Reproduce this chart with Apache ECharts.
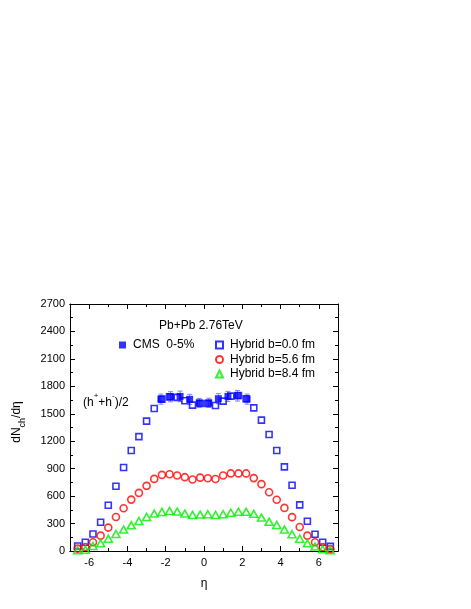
<!DOCTYPE html>
<html>
<head>
<meta charset="utf-8">
<script src="https://cdn.jsdelivr.net/npm/echarts@6/dist/echarts.min.js"></script>
<style>
  html, body { margin: 0; padding: 0; background: #fff; }
  #chart { width: 471px; height: 609px; }
</style>
</head>
<body>
<div id="chart"></div>
<script>
// pseudorapidity points of the hybrid model
const eta = [-6.6, -6.2, -5.8, -5.4, -5.0, -4.6, -4.2, -3.8, -3.4, -3.0, -2.6, -2.2, -1.8, -1.4, -1.0, -0.6, -0.2,
  0.2, 0.6, 1.0, 1.4, 1.8, 2.2, 2.6, 3.0, 3.4, 3.8, 4.2, 4.6, 5.0, 5.4, 5.8, 6.2, 6.6]

// Hybrid b=0.0 fm
const hybridB00 = [55, 95, 186, 314, 500, 708, 913, 1099, 1250, 1420, 1557, 1660, 1685, 1679, 1642, 1595, 1612,
  1612, 1591, 1638, 1693, 1700, 1665, 1565, 1431, 1274, 1099, 920, 719, 504, 325, 183, 95, 51]
// Hybrid b=5.6 fm
const hybridB56 = [26, 44, 95, 168, 256, 372, 467, 562, 635, 712, 788, 832, 839, 825, 807, 781, 802,
  795, 787, 825, 848, 848, 848, 797, 731, 643, 560, 471, 370, 263, 168, 95, 42, 20]
// Hybrid b=8.4 fm
const hybridB84 = [8, 15, 55, 84, 135, 186, 234, 281, 328, 372, 409, 427, 438, 431, 409, 394, 398,
  402, 394, 402, 418, 430, 428, 406, 365, 321, 285, 234, 183, 135, 84, 48, 19, 8]

// CMS 0-5% data
const cmsEta = [-2.25, -1.75, -1.25, -0.75, -0.25, 0.25, 0.75, 1.25, 1.75, 2.25]
const cmsVal = [1660, 1686, 1690, 1658, 1620, 1620, 1665, 1690, 1697, 1660]
const cmsErr = [55, 55, 58, 55, 48, 50, 55, 55, 58, 55]

// tick positions
const xMajorTicks = [-6, -4, -2, 0, 2, 4, 6]
const xMinorTicks = [-5, -3, -1, 1, 3, 5]

const FONT = '"Liberation Sans", Arial, sans-serif'
const BLUE = '#0000ff'
const RED = '#ff0000'
const GREEN = '#00ee00'

const pairs = (xs, ys) => xs.map((x, i) => [x, ys[i]])

// x axes: bottom/top with major and minor tick sets
function xAxisCfg(position, ticks, len, withLabels) {
  return {
    type: 'value',
    position,
    min: -7,
    max: 7,
    axisLine: { show: true, onZero: false, lineStyle: { color: '#000', width: 1 } },
    axisTick: { show: true, inside: true, length: len, customValues: ticks, lineStyle: { color: '#000' } },
    axisLabel: withLabels
      ? { show: true, customValues: ticks, color: '#000', fontSize: 11, fontFamily: FONT, margin: 6 }
      : { show: false },
    splitLine: { show: false },
  }
}

function yAxisCfg(position, withLabels) {
  return {
    type: 'value',
    position,
    min: 0,
    max: 2700,
    interval: 300,
    axisLine: { show: true, onZero: false, lineStyle: { color: '#000', width: 1 } },
    axisTick: { show: true, inside: true, length: 5, lineStyle: { color: '#000' } },
    minorTick: { show: true, splitNumber: 2, length: 3, lineStyle: { color: '#000' } },
    axisLabel: withLabels
      ? { show: true, color: '#000', fontSize: 11, fontFamily: FONT, margin: 5, formatter: v => String(v) }
      : { show: false },
    splitLine: { show: false },
  }
}

const chart = echarts.init(document.getElementById('chart'), null, { renderer: 'canvas' })

chart.setOption({
  backgroundColor: '#fff',
  animation: false,
  grid: { left: 70, right: 133, top: 304, bottom: 58 },
  xAxis: [
    Object.assign(xAxisCfg('bottom', xMajorTicks, 5, true), {
      name: 'η', nameLocation: 'middle', nameGap: 27,
      nameTextStyle: { color: '#000', fontSize: 12, fontFamily: FONT },
    }),
    xAxisCfg('bottom', xMinorTicks, 3, false),
    xAxisCfg('top', xMajorTicks, 5, false),
    xAxisCfg('top', xMinorTicks, 3, false),
  ],
  yAxis: [yAxisCfg('left', true), yAxisCfg('right', false)],
  legend: [
    {
      data: ['CMS  0-5%'],
      left: 119, top: 339, padding: 0,
      itemWidth: 7, itemHeight: 7,
      selectedMode: false,
      textStyle: { color: '#000', fontSize: 12, fontFamily: FONT, padding: [0, 0, 0, 2] },
    },
    {
      data: ['Hybrid b=0.0 fm', 'Hybrid b=5.6 fm', 'Hybrid b=8.4 fm'],
      orient: 'vertical',
      left: 215, top: 339, padding: 0, itemGap: 2.5,
      itemWidth: 7, itemHeight: 7,
      selectedMode: false,
      textStyle: { color: '#000', fontSize: 12, fontFamily: FONT, padding: [0, 0, 0, 2] },
    },
  ],
  graphic: [
    {
      type: 'text', left: 159, top: 320,
      style: { text: 'Pb+Pb 2.76TeV', fill: '#000', font: '12px ' + FONT },
    },
    {
      type: 'text', left: 83, top: 392,
      style: {
        text: '{a|(h}{s|+}{a|+h}{s|-}{a|)/2}',
        rich: {
          a: { fontSize: 12, fontFamily: FONT, fill: '#000', padding: [5, 0, 0, 0], verticalAlign: 'top' },
          s: { fontSize: 8, fontFamily: FONT, fill: '#000', verticalAlign: 'top' },
        },
      },
    },
    {
      type: 'text', x: 19, y: 422, rotation: Math.PI / 2,
      style: {
        text: '{a|dN}{b|ch}{a|/dη}',
        align: 'center', verticalAlign: 'middle',
        rich: {
          a: { fontSize: 12, fontFamily: FONT, fill: '#000', padding: [0, 0, 4, 0], verticalAlign: 'bottom' },
          b: { fontSize: 9, fontFamily: FONT, fill: '#000', verticalAlign: 'bottom' },
        },
      },
    },
  ],
  series: [
    {
      // CMS error bars
      type: 'custom',
      silent: true,
      z: 1,
      data: cmsEta.map((e, i) => [e, cmsVal[i] - cmsErr[i], cmsVal[i] + cmsErr[i]]),
      renderItem(params, api) {
        const lo = api.coord([api.value(0), api.value(1)])
        const hi = api.coord([api.value(0), api.value(2)])
        const w = 2.5
        const st = { stroke: '#8080ff', lineWidth: 1 }
        return {
          type: 'group',
          children: [
            { type: 'line', shape: { x1: lo[0], y1: lo[1], x2: hi[0], y2: hi[1] }, style: st },
            { type: 'line', shape: { x1: lo[0] - w, y1: lo[1], x2: lo[0] + w, y2: lo[1] }, style: st },
            { type: 'line', shape: { x1: hi[0] - w, y1: hi[1], x2: hi[0] + w, y2: hi[1] }, style: st },
          ],
        }
      },
    },
    {
      name: 'Hybrid b=0.0 fm',
      type: 'scatter',
      data: pairs(eta, hybridB00),
      symbol: 'rect',
      symbolSize: 6,
      itemStyle: { color: 'rgba(255,255,255,0)', borderColor: BLUE, borderWidth: 1.6 },
      z: 2,
    },
    {
      name: 'Hybrid b=5.6 fm',
      type: 'scatter',
      data: pairs(eta, hybridB56),
      symbol: 'circle',
      symbolSize: 7,
      itemStyle: { color: 'rgba(255,255,255,0)', borderColor: RED, borderWidth: 1.6 },
      z: 2,
    },
    {
      name: 'Hybrid b=8.4 fm',
      type: 'scatter',
      data: pairs(eta, hybridB84),
      symbol: 'triangle',
      symbolSize: [8, 7],
      itemStyle: { color: 'rgba(255,255,255,0)', borderColor: GREEN, borderWidth: 1.6 },
      z: 2,
    },
    {
      name: 'CMS  0-5%',
      type: 'scatter',
      data: pairs(cmsEta, cmsVal),
      symbol: 'rect',
      symbolSize: 7,
      itemStyle: { color: BLUE },
      z: 3,
    },
  ],
})
</script>
</body>
</html>
